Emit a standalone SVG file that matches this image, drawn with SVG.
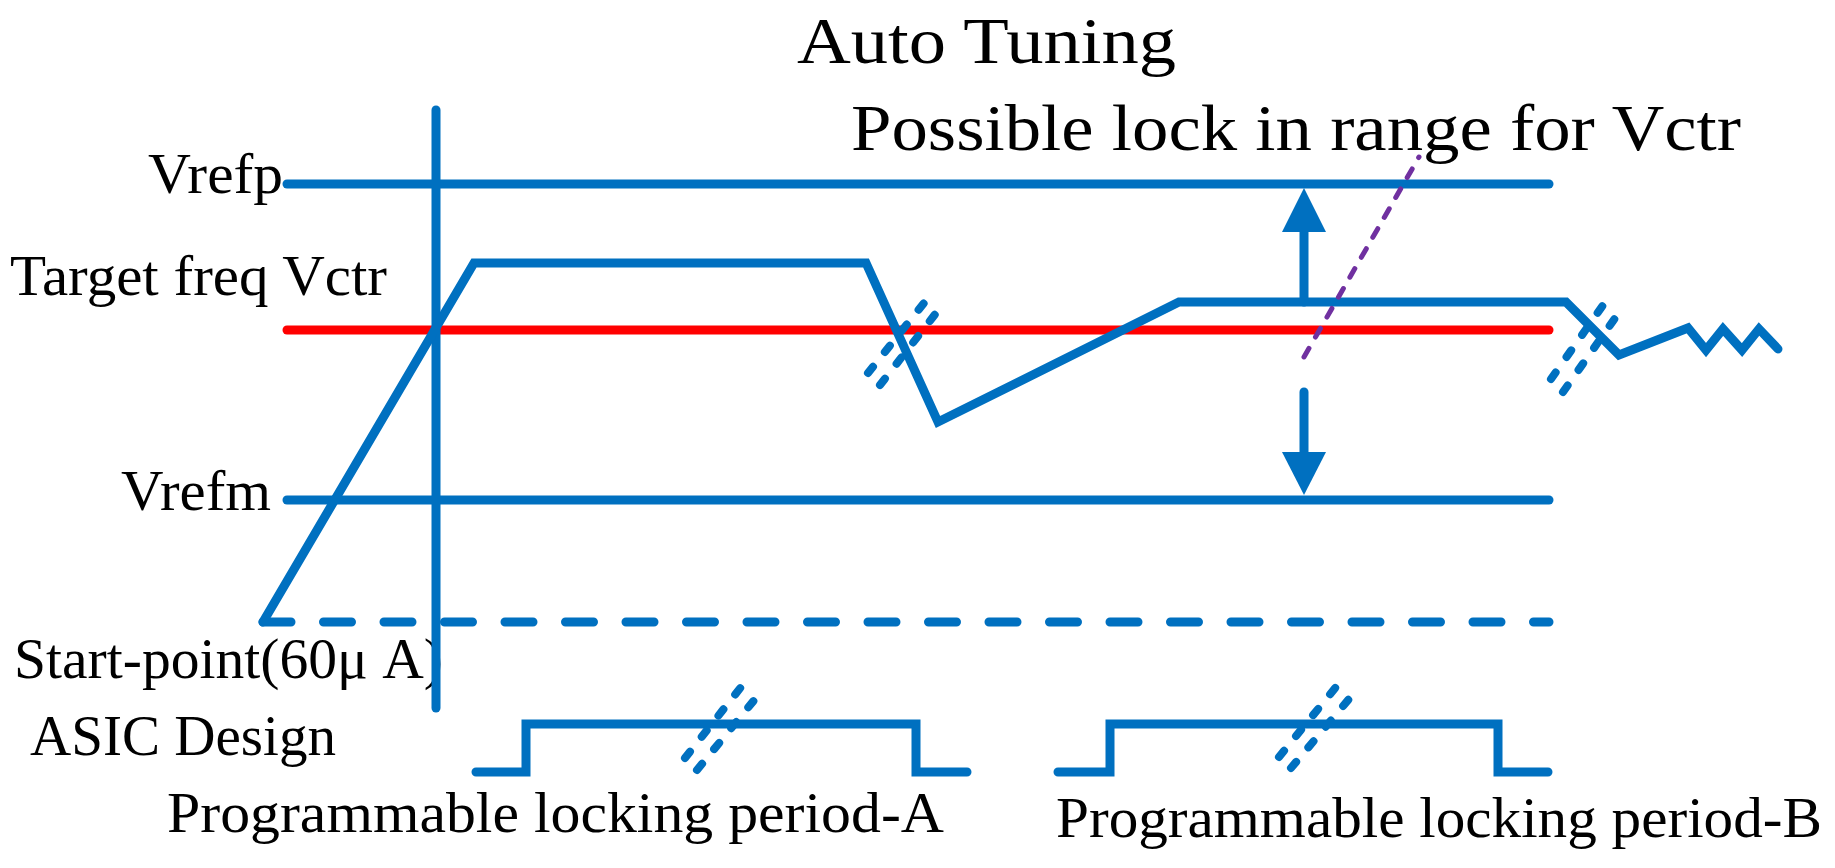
<svg xmlns="http://www.w3.org/2000/svg" width="1835" height="868" viewBox="0 0 1835 868">
<style>
.b{stroke:#0070C0;stroke-width:9;fill:none;stroke-linecap:round;stroke-linejoin:miter}
.r{stroke:#FF0000;stroke-width:9;fill:none;stroke-linecap:round}
.dash{stroke:#0070C0;stroke-width:9;fill:none;stroke-linecap:round;stroke-dasharray:28 32.5}
.brk{stroke:#0070C0;stroke-width:8;fill:none;stroke-linecap:round;stroke-dasharray:8 19}
.pur{stroke:#7030A0;stroke-width:5;fill:none;stroke-linecap:round;stroke-dasharray:10 13}
text{font-family:"Liberation Serif","DejaVu Serif",serif;fill:#000}
.t{font-size:58px}
.h{font-size:66px}
</style>
<rect width="1835" height="868" fill="#fff"/>
<g id="labels">
<text class="h" x="797" y="63" textLength="379" lengthAdjust="spacingAndGlyphs">Auto Tuning</text>
<text class="h" x="851" y="150" textLength="890" lengthAdjust="spacingAndGlyphs">Possible lock in range for Vctr</text>
<text class="t" x="148" y="193" textLength="135" lengthAdjust="spacingAndGlyphs">Vrefp</text>
<text class="t" x="10" y="295" textLength="377" lengthAdjust="spacingAndGlyphs">Target freq Vctr</text>
<text class="t" x="121" y="510" textLength="150" lengthAdjust="spacingAndGlyphs">Vrefm</text>
<text class="t" x="14" y="678" textLength="429" lengthAdjust="spacingAndGlyphs">Start-point(60μ A)</text>
<text class="t" x="30" y="755" textLength="306" lengthAdjust="spacingAndGlyphs">ASIC Design</text>
<text class="t" x="167" y="832" textLength="777" lengthAdjust="spacingAndGlyphs">Programmable locking period-A</text>
<text class="t" x="1056" y="837" textLength="766" lengthAdjust="spacingAndGlyphs">Programmable locking period-B</text>
</g>
<g id="connectors">
<line class="b" x1="287" y1="184" x2="1549" y2="184"/>
<line class="b" x1="287" y1="500" x2="1549" y2="500"/>
<line class="r" x1="287" y1="330" x2="1549" y2="330"/>
<line class="dash" x1="263" y1="622" x2="1549" y2="622"/>
<line class="b" x1="436" y1="110" x2="436" y2="708"/>
<polyline class="b" stroke-linejoin="round" points="263,622 474,263 866,263 938,422 1179,302 1566,302 1619,355 1688,328 1706,350 1723,329 1742,350 1759,329 1778,349"/>
<polyline class="b" points="476,772 526,772 526,724 916,724 916,772 967,772"/>
<polyline class="b" points="1058,772 1110,772 1110,724 1498,724 1498,772 1548,772"/>
<line class="pur" x1="1304" y1="357" x2="1419" y2="157"/>
<line class="b" x1="1304" y1="302" x2="1304" y2="225"/>
<polygon fill="#0070C0" points="1304,188 1282,232 1326,232"/>
<line class="b" x1="1304" y1="392" x2="1304" y2="460"/>
<polygon fill="#0070C0" points="1304,495 1282,452 1326,452"/>
<g id="breaks">
<line class="brk" x1="868" y1="373" x2="928" y2="298"/>
<line class="brk" x1="880" y1="385" x2="940" y2="308"/>
<line class="brk" x1="1551" y1="379" x2="1613" y2="291"/>
<line class="brk" x1="1563" y1="392" x2="1625" y2="304"/>
<line class="brk" x1="685" y1="758" x2="745" y2="682"/>
<line class="brk" x1="697" y1="770" x2="760" y2="693"/>
<line class="brk" x1="1279" y1="757" x2="1340" y2="682"/>
<line class="brk" x1="1291" y1="768" x2="1354" y2="693"/>
</g>
</g>
</svg>
